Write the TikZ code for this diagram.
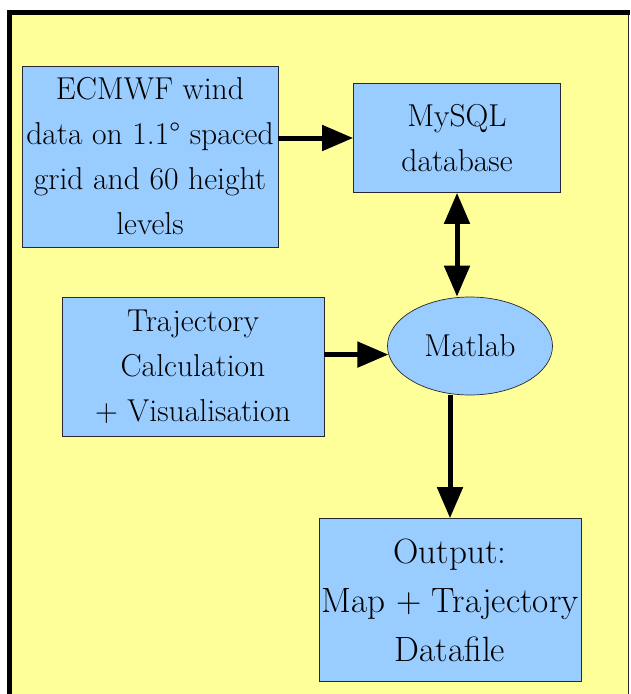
\documentclass[tikz,border=0pt]{standalone}
\usepackage{fontspec}
\usetikzlibrary{positioning,shapes.geometric,arrows.meta}
\definecolor{fondo}{RGB}{255,255,153}
\definecolor{azul}{RGB}{153,204,255}
\definecolor{borde}{RGB}{40,40,50}

\begin{document}
\begin{tikzpicture}[node distance=3cm, >={Triangle[length=0.62cm, width=0.5cm]},
    caja/.style={draw=borde, fill=azul, rectangle, align=center, inner sep=1pt, font=\fontsize{18}{25.6}\selectfont},
    flecha/.style={line width=0.1cm}]
    \useasboundingbox (0,0) rectangle (12.6,-13.88);

    % Fondo y marco
    \fill[fondo] (0.24,-0.30) rectangle (12.56,-13.88);
    \draw[line width=0.1cm] (0.19,-13.88) -- (0.19,-0.25) -- (12.6,-0.25);
    \draw[borde, thin] (12.56,-0.30) -- (12.56,-13.88);

    % Nodos principales
    \node (ecmwf) at (3.00,-3.13) [caja, minimum width=5.12cm, minimum height=3.62cm]
    {ECMWF wind \\ data on 1.1° spaced \\ grid and 60 height \\ levels};

    \node (mysql) [right of=ecmwf, xshift=3.14cm, yshift=0.37cm, caja, minimum width=4.14cm, minimum height=2.18cm]
    {MySQL \\ database};

    \node (traj) [below of=ecmwf, xshift=0.86cm, yshift=-1.2cm, caja, minimum width=5.24cm, minimum height=2.78cm]
    {Trajectory \\ Calculation \\ + Visualisation};

    \node (matlab) [below of=mysql, xshift=0.26cm, yshift=-1.16cm, caja, ellipse, minimum width=3.3cm, minimum height=1.96cm]
    {Matlab};

    \node (output) [below of=matlab, xshift=-0.4cm, yshift=-2.08cm, caja, minimum width=5.24cm, minimum height=3.26cm, font=\fontsize{20}{27.8}\selectfont]
    {Output: \\ Map + Trajectory \\ Datafile};

    % Flechas de conexión
    \draw[->, flecha] (ecmwf.east |- mysql.west) -- (mysql.west);
    \draw[<->, flecha] (mysql.south) -- (mysql.south |- matlab.north);
    \draw[->, flecha] (traj.east |- matlab.186) -- (matlab.186);
    \draw[->, flecha] (output.north |- matlab.south) -- (output.north);
\end{tikzpicture}
\end{document}
